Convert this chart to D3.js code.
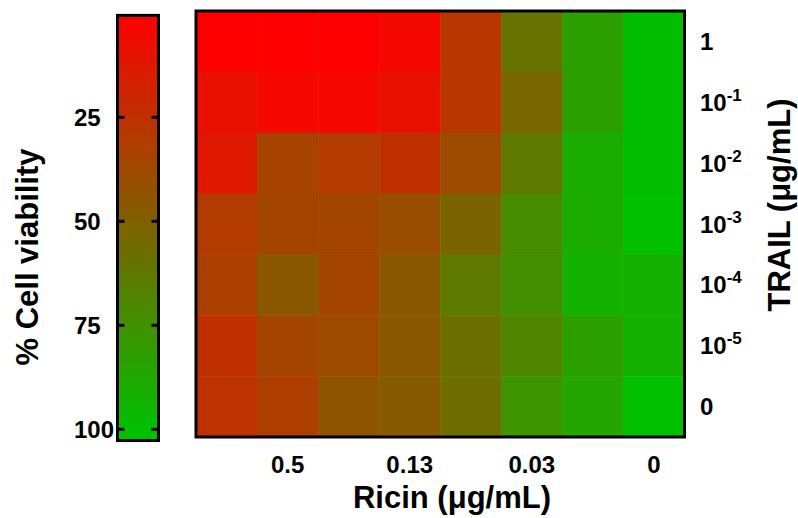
<!DOCTYPE html>
<html>
<head>
<meta charset="utf-8">
<script src="https://cdn.jsdelivr.net/npm/d3@7/dist/d3.min.js"></script>
<style>
  html, body { margin: 0; padding: 0; background: #fff; }
  svg { display: block; }
  text { font-family: "Liberation Sans", Arial, sans-serif; font-weight: bold; fill: #000; }
</style>
</head>
<body>
<svg id="chart" width="798" height="518"></svg>
<script>
// Ricin dilution series (columns, left to right)
const ricinDoses = ["1", "0.5", "0.25", "0.13", "0.06", "0.03", "0.015", "0"];
const ricinTickLabels = ["0.5", "0.13", "0.03", "0"];

// TRAIL concentrations (rows, top to bottom); exponent "" means plain label
const trailDoses = ["1", "1e-1", "1e-2", "1e-3", "1e-4", "1e-5", "0"];
const trailBase = ["1", "10", "10", "10", "10", "10", "0"];
const trailExponent = ["", "-1", "-2", "-3", "-4", "-5", ""];

// % cell viability, one array per TRAIL row
const viabilityTrail1    = [0, 0, 0, 4, 28, 60, 83, 99];
const viabilityTrail1e_1 = [9, 4, 4, 9, 28, 53, 83, 99];
const viabilityTrail1e_2 = [13, 35, 30, 25, 39, 63, 90, 99];
const viabilityTrail1e_3 = [30, 36, 36, 40, 52, 73, 90, 100];
const viabilityTrail1e_4 = [33, 46, 36, 46, 63, 74, 92, 92];
const viabilityTrail1e_5 = [25, 36, 38, 46, 58, 69, 83, 92];
const viabilityTrail0    = [26, 32, 44, 47, 57, 77, 86, 100];
const viabilityRows = [viabilityTrail1, viabilityTrail1e_1, viabilityTrail1e_2,
  viabilityTrail1e_3, viabilityTrail1e_4, viabilityTrail1e_5, viabilityTrail0];

// Colour bar ticks
const colorbarTicks = [25, 50, 75, 100];

const svg = d3.select("#chart");

// Viability colour: red (dead) to green (alive)
const color = d3.scaleLinear().domain([0, 100]).range(["#ff0000", "#00c000"])
  .interpolate(d3.interpolateRgb).clamp(true);

// ---- Heat map ----
const heat = { x0: 196, x1: 684.5, y0: 11, y1: 437 };
const x = d3.scaleBand().domain(ricinDoses).range([heat.x0, heat.x1]);
const y = d3.scaleBand().domain(trailDoses).range([heat.y0, heat.y1]);

const cells = [];
viabilityRows.forEach((row, i) => row.forEach((v, j) => {
  cells.push({ trail: trailDoses[i], ricin: ricinDoses[j], v });
}));

svg.append("g").selectAll("rect").data(cells).join("rect")
  .attr("x", d => x(d.ricin))
  .attr("y", d => y(d.trail))
  .attr("width", x.bandwidth() + 0.5)
  .attr("height", y.bandwidth() + 0.5)
  .attr("fill", d => color(d.v));

svg.append("rect")
  .attr("x", heat.x0).attr("y", heat.y0)
  .attr("width", heat.x1 - heat.x0).attr("height", heat.y1 - heat.y0)
  .attr("fill", "none").attr("stroke", "#000").attr("stroke-width", 3);

// Bottom axis: ricin labels on every other column
const xAxis = d3.axisBottom(x).tickValues(ricinTickLabels).tickSize(0).tickPadding(0);
const gx = svg.append("g").attr("transform", `translate(0,${heat.y1})`).call(xAxis);
gx.select(".domain").remove();
gx.selectAll("text").attr("font-size", 24).attr("dy", null)
  .attr("y", 36).style("font-family", null);

svg.append("text")
  .attr("x", 452).attr("y", 508)
  .attr("text-anchor", "middle").attr("font-size", 31)
  .text("Ricin (\u03BCg/mL)");

// Right axis: TRAIL labels with exponent superscripts
const rightLabels = svg.append("g");
trailDoses.forEach((t, i) => {
  const tx = rightLabels.append("text")
    .attr("x", 700).attr("y", y(t) + y.bandwidth() / 2 + 8.5)
    .attr("font-size", 24);
  tx.append("tspan").text(trailBase[i]);
  if (trailExponent[i]) {
    tx.append("tspan").attr("font-size", 17).attr("dy", -10).text(trailExponent[i]);
  }
});

svg.append("text")
  .attr("transform", `translate(790,205) rotate(-90)`)
  .attr("text-anchor", "middle").attr("font-size", 31)
  .text("TRAIL (\u03BCg/mL)");

// ---- Colour bar ----
const cb = { x0: 117.5, x1: 158.5 };
const cbY = d3.scaleLinear().domain([0, 100]).range([13.3, 429.3]);
const cbTop = cbY(0.5), cbBottom = cbY(102.7);

const defs = svg.append("defs");
const grad = defs.append("linearGradient").attr("id", "viability-gradient")
  .attr("gradientUnits", "userSpaceOnUse")
  .attr("x1", 0).attr("x2", 0).attr("y1", cbY(0)).attr("y2", cbY(100));
d3.range(0, 101, 10).forEach(v => {
  grad.append("stop").attr("offset", `${v}%`).attr("stop-color", color(v));
});

svg.append("rect")
  .attr("x", cb.x0).attr("y", cbTop)
  .attr("width", cb.x1 - cb.x0).attr("height", cbBottom - cbTop)
  .attr("fill", "url(#viability-gradient)")
  .attr("stroke", "#000").attr("stroke-width", 3);

const cbTickG = svg.append("g");
colorbarTicks.forEach(v => {
  cbTickG.append("line")
    .attr("x1", cb.x0).attr("x2", cb.x0 + 7)
    .attr("y1", cbY(v)).attr("y2", cbY(v))
    .attr("stroke", "#000").attr("stroke-width", 3);
  cbTickG.append("line")
    .attr("x1", cb.x1 - 7).attr("x2", cb.x1)
    .attr("y1", cbY(v)).attr("y2", cbY(v))
    .attr("stroke", "#000").attr("stroke-width", 3);
  cbTickG.append("text")
    .attr("x", 74).attr("y", cbY(v) + 8.5)
    .attr("font-size", 24)
    .text(v);
});

svg.append("text")
  .attr("transform", `translate(38,257) rotate(-90)`)
  .attr("text-anchor", "middle").attr("font-size", 31)
  .text("% Cell viability");
</script>
</body>
</html>
